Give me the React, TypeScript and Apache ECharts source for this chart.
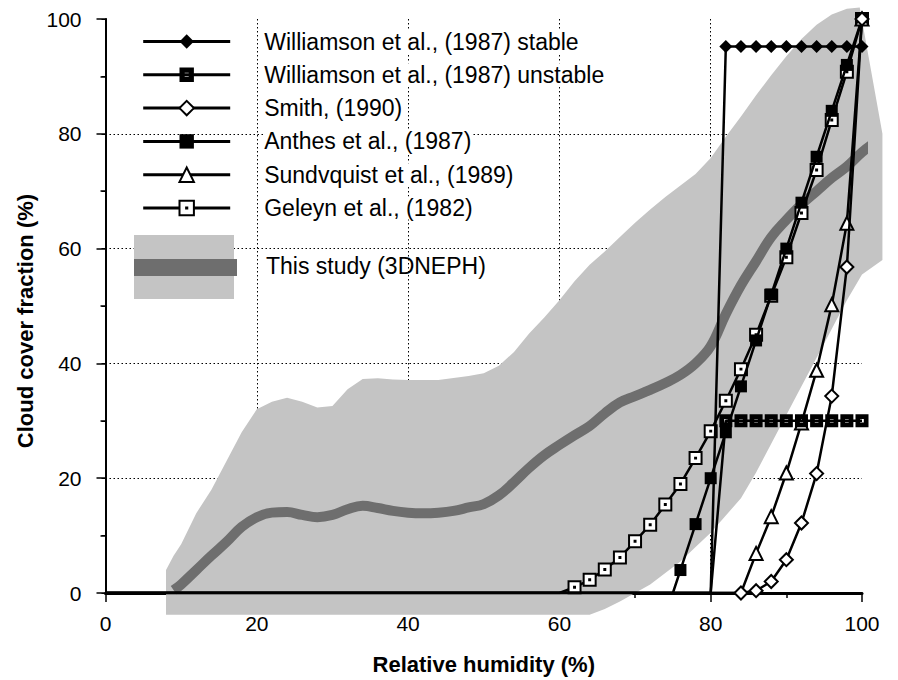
import { useEffect, useRef } from 'react';
import * as echarts from 'echarts';

const FONT = '"Liberation Sans", Arial, Helvetica, sans-serif';

// Parameterisations (relative humidity %, cloud cover fraction %)
const stableRH = [0, 80, 82, 84, 86, 88, 90, 92, 94, 96, 98, 100];
const stableCF = [0, 0, 95.2, 95.2, 95.2, 95.2, 95.2, 95.2, 95.2, 95.2, 95.2, 95.2];
const unstableRH = [0, 80, 82, 84, 86, 88, 90, 92, 94, 96, 98, 100];
const unstableCF = [0, 0, 30, 30, 30, 30, 30, 30, 30, 30, 30, 30];
const smithRH = [0, 84, 86, 88, 90, 92, 94, 96, 98, 100];
const smithCF = [0, 0, 0.4, 2, 5.8, 12.2, 20.8, 34.3, 56.8, 100];
const anthesRH = [0, 75, 76, 78, 80, 82, 84, 86, 88, 90, 92, 94, 96, 98, 100];
const anthesCF = [0, 0, 4, 12, 20, 28, 36, 44, 52, 60, 68, 76, 84, 92, 100];
const sundqvistRH = [0, 84, 86, 88, 90, 92, 94, 96, 98, 100];
const sundqvistCF = [0, 0, 6.9, 13.3, 20.9, 29.6, 38.8, 50.2, 64.4, 100];
const geleynRH = [0, 60, 62, 64, 66, 68, 70, 72, 74, 76, 78, 80, 82, 84, 86, 88, 90, 92, 94, 96, 98, 100];
const geleynCF = [0, 0, 1, 2.3, 4.1, 6.2, 9, 11.9, 15.4, 19, 23.5, 28.2, 33.5, 39, 45, 51.8, 58.5, 66.2, 73.7, 82.4, 90.8, 100];

// This study (3DNEPH): mean curve and spread band
const meanRH = [9, 10, 12, 14, 16, 18, 20, 22, 24, 26, 28, 30, 32, 34, 36, 38, 40, 42, 44, 46, 48, 50, 52, 54, 56, 58, 60, 62, 64, 66, 68, 70, 72, 74, 76, 78, 80, 82, 84, 86, 88, 90, 92, 94, 96, 98, 100, 101.5];
const meanCF = [0.5, 1.5, 4, 6.5, 8.9, 11.5, 13.2, 14, 14.1, 13.6, 13.2, 13.6, 14.6, 15.2, 14.8, 14.3, 14, 13.9, 14, 14.3, 14.9, 15.5, 17, 19.3, 21.8, 24, 25.8, 27.5, 29.1, 31.3, 33.2, 34.3, 35.4, 36.6, 38, 40, 43, 48.6, 53.6, 57.8, 62, 65, 67.7, 70, 72.3, 74.3, 76.8, 78.3];
const bandUpperRH = [8, 9, 10, 12, 14, 16, 18, 20, 22, 24, 26, 28, 30, 32, 34, 36, 38, 40, 44, 48, 50, 52, 54, 56, 58, 60, 62, 64, 66, 68, 70, 72, 74, 76, 78, 80, 82, 84, 86, 88, 90, 92, 94, 96, 98, 99.7, 102.7];
const bandUpperCF = [4, 6.5, 8.5, 13.9, 18, 23, 28, 32, 33.3, 34, 33.3, 32.3, 32.6, 35.5, 37.3, 37.4, 37.2, 37.1, 37.1, 37.8, 38.3, 39.6, 42, 45.2, 48, 51, 54.3, 57.2, 59.5, 62, 64.5, 66.8, 69, 71, 73, 75.8, 79.5, 83, 86.7, 90.2, 93.5, 96.5, 99, 100.8, 101.8, 102, 80];
const bandLowerRH = [8, 64, 66, 68, 70, 72, 74, 76, 78, 80, 82, 84, 86, 88, 90, 92, 94, 96, 98, 100, 102.7];
const bandLowerCF = [-3.8, -3.8, -2.8, -1.5, 0, 1.5, 3.5, 5.5, 8, 10.5, 13.5, 16.5, 21, 26, 31, 36, 41, 46, 51, 55.5, 58];

const xTicks = { min: 0, max: 100, step: 20 };
const yTicks = { min: 0, max: 100, step: 20 };

const NAMES = [
  'Williamson et al., (1987) stable',
  'Williamson et al., (1987) unstable',
  'Smith, (1990)',
  'Anthes et al., (1987)',
  'Sundvquist et al., (1989)',
  'Geleyn et al., (1982)',
];
const STUDY = 'This study (3DNEPH)';
const X_TITLE = 'Relative humidity (%)';
const Y_TITLE = 'Cloud cover fraction (%)';

const SQ_DOT_HOLE = 'path://M0,0H10V10H0Z M3.6,3.6V6.4H6.4V3.6Z';
const SQ_OPEN_DOT = 'path://M0,0H10V10H0Z M4.6,4.6H5.4V5.4H4.6Z';

function pairs(xs: number[], ys: number[], unmarked: number) {
  return xs.map((x, i) => (i < unmarked ? { value: [x, ys[i]], symbol: 'none' } : { value: [x, ys[i]] }));
}

export default function App() {
  const ref = useRef<HTMLDivElement>(null);
  useEffect(() => {
    if (!ref.current) return;
    const chart = echarts.init(ref.current, undefined, { renderer: 'svg' });

    const polygon: number[][] = [];
    bandUpperRH.forEach((x, i) => polygon.push([x, bandUpperCF[i]]));
    for (let i = bandLowerRH.length - 1; i >= 0; i--) polygon.push([bandLowerRH[i], bandLowerCF[i]]);

    const lineSeries = (name: string, xs: number[], ys: number[], unmarked: number, symbol: string, size: number, fill: string, border: number, z: number) => ({
      type: 'line',
      name,
      data: pairs(xs, ys, unmarked),
      symbol,
      symbolSize: size,
      showAllSymbol: true,
      z,
      itemStyle: { color: fill, borderColor: '#000', borderWidth: border },
      lineStyle: { color: '#000', width: 2.5 },
      emphasis: { disabled: true },
      silent: true,
    });

    const axisLabel = { color: '#000', fontSize: 21, fontFamily: FONT };

    chart.setOption({
      animation: false,
      backgroundColor: '#fff',
      grid: { left: 105.5, right: 36, top: 19, bottom: 87, containLabel: false },
      xAxis: [
        {
          type: 'value', min: xTicks.min, max: xTicks.max, interval: xTicks.step, position: 'bottom',
          axisLine: { show: true, onZero: false, lineStyle: { color: '#000', width: 3 } },
          axisTick: { show: true, inside: false, length: 9, lineStyle: { color: '#000', width: 1.5 } },
          minorTick: { show: true, splitNumber: 2, length: 5, lineStyle: { color: '#000', width: 1.5 } },
          axisLabel: { ...axisLabel, margin: 20 },
          splitLine: { show: true, showMinLine: false, showMaxLine: false, lineStyle: { color: '#000', type: [1.5, 2.5], width: 1 } },
          name: X_TITLE, nameLocation: 'middle', nameGap: 60,
          nameTextStyle: { fontSize: 22, fontWeight: 'bold', color: '#000', fontFamily: FONT },
        },
        {
          type: 'value', min: xTicks.min, max: xTicks.max, position: 'top',
          axisLine: { show: true, lineStyle: { color: '#000', width: 1.5 } },
          axisTick: { show: false }, axisLabel: { show: false }, splitLine: { show: false },
        },
      ],
      yAxis: [
        {
          type: 'value', min: yTicks.min, max: yTicks.max, interval: yTicks.step, position: 'left',
          axisLine: { show: true, onZero: false, lineStyle: { color: '#000', width: 2 } },
          axisTick: { show: true, inside: false, length: 9, lineStyle: { color: '#000', width: 1.5 } },
          minorTick: { show: true, splitNumber: 2, length: 5, lineStyle: { color: '#000', width: 1.5 } },
          axisLabel: { ...axisLabel, margin: 24 },
          splitLine: { show: true, showMinLine: false, showMaxLine: false, lineStyle: { color: '#000', type: [1.5, 2.5], width: 1 } },
        },
        {
          type: 'value', min: yTicks.min, max: yTicks.max, interval: 10, position: 'right',
          axisLine: { show: true, lineStyle: { color: '#000', width: 1.5 } },
          axisTick: { show: true, inside: true, length: 4, lineStyle: { color: '#000', width: 1 } },
          axisLabel: { show: false }, splitLine: { show: false },
        },
      ],
      legend: {
        data: NAMES,
        orient: 'vertical',
        left: 136.7,
        top: 25,
        itemWidth: 87,
        itemHeight: 18,
        itemGap: 10.3,
        selectedMode: false,
        lineStyle: { width: 3, color: '#000' },
        formatter: (n: string) => `{t|${n}}`,
        textStyle: {
          color: '#000', fontSize: 23, fontFamily: FONT, lineHeight: 23, padding: [0, 0, 0, 29],
          rich: { t: { color: '#000', fontSize: 23, fontFamily: FONT, lineHeight: 23, backgroundColor: '#fff' } },
        },
      },
      graphic: [
        {
          type: 'text', x: 25, y: 321, rotation: Math.PI / 2, z: 20,
          style: { text: Y_TITLE, font: `bold 22px ${FONT}`, fill: '#000', align: 'center', verticalAlign: 'middle' },
        },
        { type: 'rect', left: 134, top: 235, shape: { width: 100, height: 64 }, style: { fill: '#c4c4c4' }, z: 10 },
        { type: 'rect', left: 134, top: 259, shape: { width: 103, height: 17 }, style: { fill: '#6e6e6e' }, z: 11 },
        { type: 'text', left: 266, top: 254, style: { text: STUDY, font: `23px ${FONT}`, fill: '#000' }, z: 11 },
      ],
      series: [
        {
          type: 'custom', name: STUDY + ' spread', silent: true, z: 1, clip: false,
          data: polygon, encode: { x: 0, y: 1 },
          renderItem: (params: any, api: any) => {
            if (params.dataIndex !== 0) return null;
            const pts = polygon.map((p) => api.coord(p));
            return { type: 'polygon', shape: { points: pts }, style: { fill: '#c4c4c4' } };
          },
        },
        {
          type: 'line', name: STUDY, z: 2, clip: false, smooth: 0.4, symbol: 'none', silent: true,
          data: meanRH.map((x, i) => [x, meanCF[i]]),
          lineStyle: { color: '#6e6e6e', width: 10, cap: 'butt' },
        },
        lineSeries(NAMES[5], geleynRH, geleynCF, 2, SQ_OPEN_DOT, 12, '#fff', 2, 3),
        lineSeries(NAMES[3], anthesRH, anthesCF, 2, 'rect', 12, '#000', 0, 4),
        lineSeries(NAMES[4], sundqvistRH, sundqvistCF, 2, 'triangle', 13, '#fff', 2, 5),
        lineSeries(NAMES[2], smithRH, smithCF, 1, 'diamond', 13, '#fff', 2, 6),
        lineSeries(NAMES[1], unstableRH, unstableCF, 2, SQ_DOT_HOLE, 13, '#000', 0, 7),
        lineSeries(NAMES[0], stableRH, stableCF, 2, 'diamond', 13, '#000', 0, 8),
      ],
    });
    return () => chart.dispose();
  }, []);
  return <div ref={ref} style={{ position: 'absolute', left: 0, top: 0, width: 898, height: 680 }} />;
}
